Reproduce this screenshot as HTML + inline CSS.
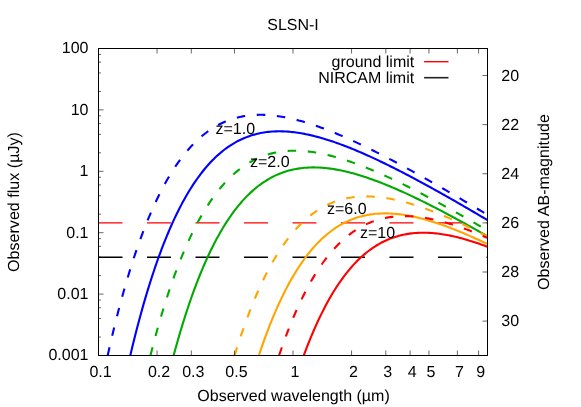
<!DOCTYPE html>
<html><head><meta charset="utf-8"><style>
html,body{margin:0;padding:0;background:#fff;}
body{width:581px;height:407px;position:relative;overflow:hidden;font-family:"Liberation Sans",sans-serif;}
.t{position:absolute;font-size:16px;line-height:16px;height:16px;white-space:nowrap;color:#000;text-rendering:geometricPrecision;}
#tx{position:absolute;left:0;top:0;width:581px;height:407px;will-change:transform;}
.rot{width:300px;height:20px;line-height:20px;text-align:center;transform:rotate(-90deg);transform-origin:50% 50%;}
</style></head><body>
<svg width="581" height="407" viewBox="0 0 581 407" style="position:absolute;left:0;top:0">
<path d="M98.5 222.88 H487.5" stroke="#ff0000" stroke-width="1.2" stroke-dasharray="24 24.5" fill="none"/>
<path d="M98.5 257.27 H487.5" stroke="#000" stroke-width="1.3" stroke-dasharray="24 24.5" fill="none"/>
<path d="M130.30 355.50 L130.92 352.87 L132.54 346.12 L134.16 339.54 L135.78 333.10 L137.40 326.82 L139.02 320.69 L140.64 314.70 L142.26 308.86 L143.88 303.15 L145.50 297.59 L147.12 292.16 L148.75 286.86 L150.37 281.69 L151.99 276.65 L153.61 271.73 L155.23 266.94 L156.85 262.26 L158.47 257.71 L160.09 253.27 L161.71 248.94 L163.33 244.72 L164.95 240.62 L166.57 236.62 L168.20 232.73 L169.82 228.93 L171.44 225.25 L173.06 221.66 L174.68 218.16 L176.30 214.77 L177.92 211.46 L179.54 208.25 L181.16 205.13 L182.78 202.10 L184.40 199.15 L186.02 196.29 L187.65 193.51 L189.27 190.81 L190.89 188.20 L192.51 185.66 L194.13 183.20 L195.75 180.82 L197.37 178.51 L198.99 176.27 L200.61 174.10 L202.23 172.01 L203.85 169.98 L205.48 168.02 L207.10 166.12 L208.72 164.30 L210.34 162.53 L211.96 160.82 L213.58 159.18 L215.20 157.60 L216.82 156.07 L218.44 154.60 L220.06 153.19 L221.68 151.83 L223.30 150.53 L224.93 149.28 L226.55 148.08 L228.17 146.93 L229.79 145.83 L231.41 144.78 L233.03 143.78 L234.65 142.82 L236.27 141.91 L237.89 141.04 L239.51 140.22 L241.13 139.44 L242.75 138.70 L244.38 138.00 L246.00 137.35 L247.62 136.73 L249.24 136.15 L250.86 135.60 L252.48 135.09 L254.10 134.62 L255.72 134.19 L257.34 133.78 L258.96 133.41 L260.58 133.08 L262.20 132.77 L263.82 132.50 L265.45 132.25 L267.07 132.04 L268.69 131.85 L270.31 131.70 L271.93 131.57 L273.55 131.47 L275.17 131.39 L276.79 131.34 L278.41 131.31 L280.03 131.31 L281.65 131.34 L283.27 131.38 L284.90 131.45 L286.52 131.55 L288.14 131.66 L289.76 131.79 L291.38 131.95 L293.00 132.12 L294.62 132.32 L296.24 132.53 L297.86 132.77 L299.48 133.02 L301.10 133.29 L302.73 133.57 L304.35 133.88 L305.97 134.20 L307.59 134.53 L309.21 134.89 L310.83 135.25 L312.45 135.64 L314.07 136.03 L315.69 136.44 L317.31 136.87 L318.93 137.31 L320.55 137.76 L322.17 138.23 L323.80 138.70 L325.42 139.19 L327.04 139.70 L328.66 140.21 L330.28 140.74 L331.90 141.27 L333.52 141.82 L335.14 142.38 L336.76 142.95 L338.38 143.53 L340.00 144.12 L341.62 144.71 L343.25 145.32 L344.87 145.94 L346.49 146.56 L348.11 147.20 L349.73 147.84 L351.35 148.49 L352.97 149.15 L354.59 149.82 L356.21 150.50 L357.83 151.18 L359.45 151.87 L361.08 152.57 L362.70 153.27 L364.32 153.98 L365.94 154.70 L367.56 155.43 L369.18 156.16 L370.80 156.90 L372.42 157.64 L374.04 158.39 L375.66 159.15 L377.28 159.91 L378.90 160.67 L380.52 161.45 L382.15 162.22 L383.77 163.01 L385.39 163.80 L387.01 164.59 L388.63 165.39 L390.25 166.19 L391.87 167.00 L393.49 167.81 L395.11 168.63 L396.73 169.45 L398.35 170.27 L399.98 171.10 L401.60 171.93 L403.22 172.77 L404.84 173.61 L406.46 174.46 L408.08 175.30 L409.70 176.16 L411.32 177.01 L412.94 177.87 L414.56 178.73 L416.18 179.60 L417.80 180.47 L419.42 181.34 L421.05 182.22 L422.67 183.09 L424.29 183.98 L425.91 184.86 L427.53 185.75 L429.15 186.64 L430.77 187.53 L432.39 188.42 L434.01 189.32 L435.63 190.22 L437.25 191.13 L438.88 192.03 L440.50 192.94 L442.12 193.85 L443.74 194.76 L445.36 195.68 L446.98 196.59 L448.60 197.51 L450.22 198.43 L451.84 199.36 L453.46 200.28 L455.08 201.21 L456.70 202.14 L458.33 203.07 L459.95 204.00 L461.57 204.93 L463.19 205.87 L464.81 206.81 L466.43 207.75 L468.05 208.69 L469.67 209.63 L471.29 210.58 L472.91 211.52 L474.53 212.47 L476.15 213.42 L477.77 214.37 L479.40 215.32 L481.02 216.28 L482.64 217.23 L484.26 218.19 L485.88 219.15 L487.50 220.10" stroke="#0000ff" stroke-width="2.1" fill="none" stroke-linejoin="round"/>
<path d="M107.67 355.50 L108.23 353.00 L109.85 345.87 L111.47 338.90 L113.09 332.10 L114.71 325.45 L116.33 318.96 L117.95 312.63 L119.57 306.44 L121.19 300.40 L122.81 294.50 L124.43 288.75 L126.05 283.13 L127.68 277.65 L129.30 272.30 L130.92 267.08 L132.54 261.99 L134.16 257.03 L135.78 252.19 L137.40 247.47 L139.02 242.87 L140.64 238.39 L142.26 234.02 L143.88 229.77 L145.50 225.62 L147.12 221.58 L148.75 217.65 L150.37 213.82 L151.99 210.09 L153.61 206.47 L155.23 202.94 L156.85 199.51 L158.47 196.17 L160.09 192.92 L161.71 189.77 L163.33 186.70 L164.95 183.73 L166.57 180.83 L168.20 178.02 L169.82 175.30 L171.44 172.65 L173.06 170.09 L174.68 167.60 L176.30 165.19 L177.92 162.85 L179.54 160.58 L181.16 158.39 L182.78 156.27 L184.40 154.22 L186.02 152.23 L187.65 150.31 L189.27 148.46 L190.89 146.67 L192.51 144.94 L194.13 143.28 L195.75 141.67 L197.37 140.12 L198.99 138.63 L200.61 137.20 L202.23 135.82 L203.85 134.50 L205.48 133.23 L207.10 132.01 L208.72 130.84 L210.34 129.73 L211.96 128.66 L213.58 127.64 L215.20 126.66 L216.82 125.74 L218.44 124.85 L220.06 124.01 L221.68 123.22 L223.30 122.46 L224.93 121.75 L226.55 121.08 L228.17 120.44 L229.79 119.85 L231.41 119.29 L233.03 118.77 L234.65 118.29 L236.27 117.84 L237.89 117.42 L239.51 117.04 L241.13 116.69 L242.75 116.37 L244.38 116.09 L246.00 115.83 L247.62 115.61 L249.24 115.41 L250.86 115.25 L252.48 115.11 L254.10 114.99 L255.72 114.91 L257.34 114.85 L258.96 114.81 L260.58 114.80 L262.20 114.82 L263.82 114.86 L265.45 114.92 L267.07 115.00 L268.69 115.11 L270.31 115.23 L271.93 115.38 L273.55 115.55 L275.17 115.74 L276.79 115.94 L278.41 116.17 L280.03 116.42 L281.65 116.68 L283.27 116.96 L284.90 117.26 L286.52 117.57 L288.14 117.90 L289.76 118.25 L291.38 118.61 L293.00 118.99 L294.62 119.38 L296.24 119.78 L297.86 120.20 L299.48 120.64 L301.10 121.08 L302.73 121.55 L304.35 122.02 L305.97 122.50 L307.59 123.00 L309.21 123.51 L310.83 124.03 L312.45 124.57 L314.07 125.11 L315.69 125.66 L317.31 126.23 L318.93 126.80 L320.55 127.39 L322.17 127.98 L323.80 128.59 L325.42 129.20 L327.04 129.82 L328.66 130.46 L330.28 131.10 L331.90 131.74 L333.52 132.40 L335.14 133.07 L336.76 133.74 L338.38 134.42 L340.00 135.11 L341.62 135.80 L343.25 136.50 L344.87 137.21 L346.49 137.93 L348.11 138.65 L349.73 139.38 L351.35 140.12 L352.97 140.86 L354.59 141.60 L356.21 142.36 L357.83 143.12 L359.45 143.88 L361.08 144.65 L362.70 145.43 L364.32 146.21 L365.94 147.00 L367.56 147.79 L369.18 148.58 L370.80 149.38 L372.42 150.19 L374.04 151.00 L375.66 151.82 L377.28 152.63 L378.90 153.46 L380.52 154.29 L382.15 155.12 L383.77 155.95 L385.39 156.79 L387.01 157.64 L388.63 158.48 L390.25 159.33 L391.87 160.19 L393.49 161.05 L395.11 161.91 L396.73 162.77 L398.35 163.64 L399.98 164.51 L401.60 165.38 L403.22 166.26 L404.84 167.14 L406.46 168.02 L408.08 168.91 L409.70 169.80 L411.32 170.69 L412.94 171.59 L414.56 172.48 L416.18 173.38 L417.80 174.28 L419.42 175.19 L421.05 176.09 L422.67 177.00 L424.29 177.92 L425.91 178.83 L427.53 179.74 L429.15 180.66 L430.77 181.58 L432.39 182.51 L434.01 183.43 L435.63 184.36 L437.25 185.28 L438.88 186.21 L440.50 187.15 L442.12 188.08 L443.74 189.02 L445.36 189.95 L446.98 190.89 L448.60 191.83 L450.22 192.78 L451.84 193.72 L453.46 194.67 L455.08 195.61 L456.70 196.56 L458.33 197.51 L459.95 198.46 L461.57 199.42 L463.19 200.37 L464.81 201.33 L466.43 202.28 L468.05 203.24 L469.67 204.20 L471.29 205.16 L472.91 206.12 L474.53 207.09 L476.15 208.05 L477.77 209.02 L479.40 209.99 L481.02 210.95 L482.64 211.92 L484.26 212.89 L485.88 213.86 L487.50 214.84" stroke="#0000ff" stroke-width="2.1" fill="none" stroke-linejoin="round" stroke-dasharray="8.5 11.65"/>
<path d="M173.62 355.50 L174.68 351.58 L176.30 345.71 L177.92 339.99 L179.54 334.41 L181.16 328.96 L182.78 323.64 L184.40 318.46 L186.02 313.40 L187.65 308.47 L189.27 303.66 L190.89 298.97 L192.51 294.40 L194.13 289.94 L195.75 285.60 L197.37 281.37 L198.99 277.25 L200.61 273.24 L202.23 269.33 L203.85 265.53 L205.48 261.82 L207.10 258.22 L208.72 254.71 L210.34 251.31 L211.96 247.99 L213.58 244.77 L215.20 241.63 L216.82 238.59 L218.44 235.63 L220.06 232.76 L221.68 229.97 L223.30 227.26 L224.93 224.64 L226.55 222.09 L228.17 219.62 L229.79 217.22 L231.41 214.90 L233.03 212.66 L234.65 210.48 L236.27 208.38 L237.89 206.34 L239.51 204.37 L241.13 202.47 L242.75 200.63 L244.38 198.86 L246.00 197.14 L247.62 195.49 L249.24 193.90 L250.86 192.37 L252.48 190.89 L254.10 189.47 L255.72 188.11 L257.34 186.80 L258.96 185.54 L260.58 184.33 L262.20 183.18 L263.82 182.07 L265.45 181.02 L267.07 180.01 L268.69 179.05 L270.31 178.13 L271.93 177.26 L273.55 176.43 L275.17 175.64 L276.79 174.90 L278.41 174.19 L280.03 173.53 L281.65 172.91 L283.27 172.32 L284.90 171.77 L286.52 171.26 L288.14 170.78 L289.76 170.34 L291.38 169.93 L293.00 169.56 L294.62 169.22 L296.24 168.91 L297.86 168.63 L299.48 168.38 L301.10 168.17 L302.73 167.98 L304.35 167.82 L305.97 167.68 L307.59 167.58 L309.21 167.50 L310.83 167.44 L312.45 167.42 L314.07 167.41 L315.69 167.43 L317.31 167.48 L318.93 167.54 L320.55 167.63 L322.17 167.74 L323.80 167.87 L325.42 168.03 L327.04 168.20 L328.66 168.39 L330.28 168.60 L331.90 168.83 L333.52 169.08 L335.14 169.35 L336.76 169.63 L338.38 169.94 L340.00 170.25 L341.62 170.59 L343.25 170.94 L344.87 171.30 L346.49 171.68 L348.11 172.08 L349.73 172.49 L351.35 172.91 L352.97 173.35 L354.59 173.80 L356.21 174.26 L357.83 174.74 L359.45 175.23 L361.08 175.73 L362.70 176.24 L364.32 176.77 L365.94 177.30 L367.56 177.85 L369.18 178.41 L370.80 178.97 L372.42 179.55 L374.04 180.14 L375.66 180.73 L377.28 181.34 L378.90 181.96 L380.52 182.58 L382.15 183.21 L383.77 183.86 L385.39 184.51 L387.01 185.17 L388.63 185.83 L390.25 186.51 L391.87 187.19 L393.49 187.88 L395.11 188.58 L396.73 189.28 L398.35 189.99 L399.98 190.71 L401.60 191.43 L403.22 192.16 L404.84 192.90 L406.46 193.64 L408.08 194.39 L409.70 195.15 L411.32 195.91 L412.94 196.67 L414.56 197.45 L416.18 198.22 L417.80 199.00 L419.42 199.79 L421.05 200.58 L422.67 201.38 L424.29 202.18 L425.91 202.99 L427.53 203.80 L429.15 204.62 L430.77 205.44 L432.39 206.26 L434.01 207.09 L435.63 207.92 L437.25 208.76 L438.88 209.60 L440.50 210.44 L442.12 211.29 L443.74 212.14 L445.36 213.00 L446.98 213.86 L448.60 214.72 L450.22 215.59 L451.84 216.45 L453.46 217.33 L455.08 218.20 L456.70 219.08 L458.33 219.96 L459.95 220.84 L461.57 221.73 L463.19 222.62 L464.81 223.51 L466.43 224.41 L468.05 225.30 L469.67 226.20 L471.29 227.11 L472.91 228.01 L474.53 228.92 L476.15 229.83 L477.77 230.74 L479.40 231.66 L481.02 232.57 L482.64 233.49 L484.26 234.41 L485.88 235.33 L487.50 236.26" stroke="#00aa00" stroke-width="2.1" fill="none" stroke-linejoin="round"/>
<path d="M150.43 355.50 L151.99 349.39 L153.61 343.18 L155.23 337.12 L156.85 331.21 L158.47 325.43 L160.09 319.79 L161.71 314.30 L163.33 308.93 L164.95 303.69 L166.57 298.59 L168.20 293.61 L169.82 288.75 L171.44 284.02 L173.06 279.40 L174.68 274.90 L176.30 270.52 L177.92 266.25 L179.54 262.09 L181.16 258.03 L182.78 254.09 L184.40 250.24 L186.02 246.50 L187.65 242.86 L189.27 239.32 L190.89 235.87 L192.51 232.52 L194.13 229.27 L195.75 226.10 L197.37 223.02 L198.99 220.03 L200.61 217.13 L202.23 214.31 L203.85 211.57 L205.48 208.91 L207.10 206.33 L208.72 203.84 L210.34 201.41 L211.96 199.06 L213.58 196.79 L215.20 194.59 L216.82 192.46 L218.44 190.39 L220.06 188.40 L221.68 186.47 L223.30 184.61 L224.93 182.81 L226.55 181.08 L228.17 179.40 L229.79 177.79 L231.41 176.23 L233.03 174.73 L234.65 173.29 L236.27 171.91 L237.89 170.58 L239.51 169.30 L241.13 168.08 L242.75 166.90 L244.38 165.78 L246.00 164.70 L247.62 163.68 L249.24 162.70 L250.86 161.76 L252.48 160.87 L254.10 160.03 L255.72 159.22 L257.34 158.46 L258.96 157.75 L260.58 157.07 L262.20 156.43 L263.82 155.83 L265.45 155.27 L267.07 154.74 L268.69 154.25 L270.31 153.80 L271.93 153.38 L273.55 152.99 L275.17 152.64 L276.79 152.31 L278.41 152.02 L280.03 151.77 L281.65 151.54 L283.27 151.34 L284.90 151.17 L286.52 151.02 L288.14 150.91 L289.76 150.82 L291.38 150.75 L293.00 150.72 L294.62 150.70 L296.24 150.71 L297.86 150.75 L299.48 150.81 L301.10 150.89 L302.73 150.99 L304.35 151.11 L305.97 151.26 L307.59 151.42 L309.21 151.61 L310.83 151.81 L312.45 152.04 L314.07 152.28 L315.69 152.54 L317.31 152.82 L318.93 153.11 L320.55 153.42 L322.17 153.75 L323.80 154.10 L325.42 154.46 L327.04 154.83 L328.66 155.22 L330.28 155.62 L331.90 156.04 L333.52 156.48 L335.14 156.92 L336.76 157.38 L338.38 157.85 L340.00 158.34 L341.62 158.83 L343.25 159.34 L344.87 159.86 L346.49 160.39 L348.11 160.93 L349.73 161.48 L351.35 162.05 L352.97 162.62 L354.59 163.21 L356.21 163.80 L357.83 164.40 L359.45 165.01 L361.08 165.64 L362.70 166.27 L364.32 166.90 L365.94 167.55 L367.56 168.21 L369.18 168.87 L370.80 169.54 L372.42 170.22 L374.04 170.91 L375.66 171.60 L377.28 172.30 L378.90 173.01 L380.52 173.73 L382.15 174.45 L383.77 175.18 L385.39 175.91 L387.01 176.65 L388.63 177.40 L390.25 178.15 L391.87 178.91 L393.49 179.67 L395.11 180.44 L396.73 181.22 L398.35 182.00 L399.98 182.79 L401.60 183.58 L403.22 184.37 L404.84 185.17 L406.46 185.98 L408.08 186.79 L409.70 187.60 L411.32 188.42 L412.94 189.24 L414.56 190.07 L416.18 190.90 L417.80 191.74 L419.42 192.57 L421.05 193.42 L422.67 194.26 L424.29 195.11 L425.91 195.97 L427.53 196.82 L429.15 197.69 L430.77 198.55 L432.39 199.42 L434.01 200.29 L435.63 201.16 L437.25 202.04 L438.88 202.92 L440.50 203.80 L442.12 204.69 L443.74 205.57 L445.36 206.47 L446.98 207.36 L448.60 208.26 L450.22 209.16 L451.84 210.06 L453.46 210.96 L455.08 211.87 L456.70 212.78 L458.33 213.69 L459.95 214.60 L461.57 215.52 L463.19 216.43 L464.81 217.35 L466.43 218.28 L468.05 219.20 L469.67 220.13 L471.29 221.05 L472.91 221.98 L474.53 222.92 L476.15 223.85 L477.77 224.79 L479.40 225.72 L481.02 226.66 L482.64 227.60 L484.26 228.54 L485.88 229.49 L487.50 230.43" stroke="#00aa00" stroke-width="2.1" fill="none" stroke-linejoin="round" stroke-dasharray="8.5 11.65"/>
<path d="M258.87 355.50 L258.96 355.22 L260.58 350.40 L262.20 345.69 L263.82 341.10 L265.45 336.62 L267.07 332.27 L268.69 328.02 L270.31 323.88 L271.93 319.85 L273.55 315.93 L275.17 312.11 L276.79 308.39 L278.41 304.77 L280.03 301.25 L281.65 297.83 L283.27 294.50 L284.90 291.26 L286.52 288.11 L288.14 285.05 L289.76 282.08 L291.38 279.20 L293.00 276.39 L294.62 273.67 L296.24 271.04 L297.86 268.48 L299.48 265.99 L301.10 263.59 L302.73 261.26 L304.35 259.00 L305.97 256.81 L307.59 254.70 L309.21 252.65 L310.83 250.67 L312.45 248.76 L314.07 246.91 L315.69 245.12 L317.31 243.40 L318.93 241.74 L320.55 240.14 L322.17 238.60 L323.80 237.11 L325.42 235.68 L327.04 234.31 L328.66 232.99 L330.28 231.73 L331.90 230.51 L333.52 229.35 L335.14 228.24 L336.76 227.17 L338.38 226.15 L340.00 225.18 L341.62 224.26 L343.25 223.38 L344.87 222.55 L346.49 221.75 L348.11 221.00 L349.73 220.29 L351.35 219.62 L352.97 218.99 L354.59 218.40 L356.21 217.85 L357.83 217.33 L359.45 216.85 L361.08 216.40 L362.70 215.99 L364.32 215.61 L365.94 215.26 L367.56 214.95 L369.18 214.66 L370.80 214.41 L372.42 214.19 L374.04 214.00 L375.66 213.83 L377.28 213.69 L378.90 213.58 L380.52 213.50 L382.15 213.44 L383.77 213.41 L385.39 213.40 L387.01 213.42 L388.63 213.46 L390.25 213.52 L391.87 213.61 L393.49 213.71 L395.11 213.84 L396.73 213.99 L398.35 214.16 L399.98 214.35 L401.60 214.56 L403.22 214.79 L404.84 215.03 L406.46 215.30 L408.08 215.58 L409.70 215.88 L411.32 216.19 L412.94 216.53 L414.56 216.87 L416.18 217.24 L417.80 217.62 L419.42 218.01 L421.05 218.42 L422.67 218.84 L424.29 219.27 L425.91 219.72 L427.53 220.18 L429.15 220.66 L430.77 221.14 L432.39 221.64 L434.01 222.15 L435.63 222.68 L437.25 223.21 L438.88 223.75 L440.50 224.31 L442.12 224.87 L443.74 225.45 L445.36 226.04 L446.98 226.63 L448.60 227.24 L450.22 227.85 L451.84 228.47 L453.46 229.11 L455.08 229.75 L456.70 230.40 L458.33 231.05 L459.95 231.72 L461.57 232.39 L463.19 233.07 L464.81 233.76 L466.43 234.46 L468.05 235.16 L469.67 235.87 L471.29 236.59 L472.91 237.31 L474.53 238.04 L476.15 238.77 L477.77 239.52 L479.40 240.27 L481.02 241.02 L482.64 241.78 L484.26 242.54 L485.88 243.32 L487.50 244.09" stroke="#ffa500" stroke-width="2.1" fill="none" stroke-linejoin="round"/>
<path d="M234.62 355.50 L234.65 355.41 L236.27 350.16 L237.89 345.04 L239.51 340.04 L241.13 335.16 L242.75 330.41 L244.38 325.78 L246.00 321.26 L247.62 316.86 L249.24 312.57 L250.86 308.40 L252.48 304.33 L254.10 300.36 L255.72 296.51 L257.34 292.75 L258.96 289.10 L260.58 285.54 L262.20 282.08 L263.82 278.72 L265.45 275.44 L267.07 272.26 L268.69 269.17 L270.31 266.17 L271.93 263.25 L273.55 260.42 L275.17 257.67 L276.79 255.00 L278.41 252.41 L280.03 249.90 L281.65 247.47 L283.27 245.11 L284.90 242.83 L286.52 240.61 L288.14 238.47 L289.76 236.40 L291.38 234.39 L293.00 232.46 L294.62 230.59 L296.24 228.78 L297.86 227.03 L299.48 225.35 L301.10 223.73 L302.73 222.16 L304.35 220.66 L305.97 219.21 L307.59 217.81 L309.21 216.48 L310.83 215.19 L312.45 213.96 L314.07 212.78 L315.69 211.65 L317.31 210.56 L318.93 209.53 L320.55 208.54 L322.17 207.60 L323.80 206.71 L325.42 205.85 L327.04 205.05 L328.66 204.28 L330.28 203.55 L331.90 202.87 L333.52 202.23 L335.14 201.62 L336.76 201.05 L338.38 200.52 L340.00 200.03 L341.62 199.57 L343.25 199.14 L344.87 198.75 L346.49 198.39 L348.11 198.07 L349.73 197.77 L351.35 197.51 L352.97 197.27 L354.59 197.07 L356.21 196.89 L357.83 196.75 L359.45 196.63 L361.08 196.53 L362.70 196.47 L364.32 196.43 L365.94 196.41 L367.56 196.42 L369.18 196.45 L370.80 196.50 L372.42 196.58 L374.04 196.68 L375.66 196.80 L377.28 196.94 L378.90 197.10 L380.52 197.29 L382.15 197.49 L383.77 197.71 L385.39 197.95 L387.01 198.21 L388.63 198.48 L390.25 198.77 L391.87 199.08 L393.49 199.41 L395.11 199.75 L396.73 200.11 L398.35 200.48 L399.98 200.87 L401.60 201.27 L403.22 201.69 L404.84 202.12 L406.46 202.56 L408.08 203.02 L409.70 203.49 L411.32 203.97 L412.94 204.46 L414.56 204.97 L416.18 205.49 L417.80 206.02 L419.42 206.56 L421.05 207.11 L422.67 207.67 L424.29 208.24 L425.91 208.83 L427.53 209.42 L429.15 210.02 L430.77 210.63 L432.39 211.25 L434.01 211.88 L435.63 212.52 L437.25 213.16 L438.88 213.82 L440.50 214.48 L442.12 215.15 L443.74 215.83 L445.36 216.51 L446.98 217.21 L448.60 217.91 L450.22 218.61 L451.84 219.33 L453.46 220.05 L455.08 220.78 L456.70 221.51 L458.33 222.25 L459.95 223.00 L461.57 223.75 L463.19 224.50 L464.81 225.27 L466.43 226.04 L468.05 226.81 L469.67 227.59 L471.29 228.38 L472.91 229.17 L474.53 229.96 L476.15 230.76 L477.77 231.56 L479.40 232.37 L481.02 233.19 L482.64 234.00 L484.26 234.83 L485.88 235.65 L487.50 236.48" stroke="#ffa500" stroke-width="2.1" fill="none" stroke-linejoin="round" stroke-dasharray="8.5 11.65"/>
<path d="M303.79 355.50 L304.35 353.99 L305.97 349.68 L307.59 345.48 L309.21 341.39 L310.83 337.41 L312.45 333.53 L314.07 329.75 L315.69 326.08 L317.31 322.51 L318.93 319.03 L320.55 315.64 L322.17 312.35 L323.80 309.16 L325.42 306.05 L327.04 303.03 L328.66 300.10 L330.28 297.25 L331.90 294.48 L333.52 291.80 L335.14 289.19 L336.76 286.67 L338.38 284.22 L340.00 281.85 L341.62 279.55 L343.25 277.32 L344.87 275.17 L346.49 273.08 L348.11 271.06 L349.73 269.11 L351.35 267.23 L352.97 265.41 L354.59 263.65 L356.21 261.96 L357.83 260.32 L359.45 258.75 L361.08 257.23 L362.70 255.77 L364.32 254.37 L365.94 253.02 L367.56 251.72 L369.18 250.48 L370.80 249.29 L372.42 248.15 L374.04 247.06 L375.66 246.01 L377.28 245.02 L378.90 244.07 L380.52 243.16 L382.15 242.30 L383.77 241.49 L385.39 240.71 L387.01 239.98 L388.63 239.29 L390.25 238.64 L391.87 238.02 L393.49 237.45 L395.11 236.91 L396.73 236.41 L398.35 235.94 L399.98 235.51 L401.60 235.11 L403.22 234.75 L404.84 234.42 L406.46 234.12 L408.08 233.85 L409.70 233.61 L411.32 233.40 L412.94 233.22 L414.56 233.06 L416.18 232.94 L417.80 232.84 L419.42 232.77 L421.05 232.72 L422.67 232.70 L424.29 232.70 L425.91 232.73 L427.53 232.78 L429.15 232.85 L430.77 232.95 L432.39 233.07 L434.01 233.20 L435.63 233.36 L437.25 233.54 L438.88 233.74 L440.50 233.96 L442.12 234.19 L443.74 234.45 L445.36 234.72 L446.98 235.01 L448.60 235.31 L450.22 235.64 L451.84 235.97 L453.46 236.33 L455.08 236.70 L456.70 237.08 L458.33 237.48 L459.95 237.90 L461.57 238.32 L463.19 238.77 L464.81 239.22 L466.43 239.69 L468.05 240.17 L469.67 240.66 L471.29 241.16 L472.91 241.68 L474.53 242.21 L476.15 242.74 L477.77 243.29 L479.40 243.85 L481.02 244.42 L482.64 245.00 L484.26 245.59 L485.88 246.19 L487.50 246.80" stroke="#ff0000" stroke-width="2.1" fill="none" stroke-linejoin="round"/>
<path d="M279.09 355.50 L280.03 352.71 L281.65 348.01 L283.27 343.43 L284.90 338.96 L286.52 334.61 L288.14 330.38 L289.76 326.25 L291.38 322.23 L293.00 318.31 L294.62 314.50 L296.24 310.79 L297.86 307.18 L299.48 303.67 L301.10 300.25 L302.73 296.93 L304.35 293.70 L305.97 290.56 L307.59 287.50 L309.21 284.54 L310.83 281.66 L312.45 278.87 L314.07 276.15 L315.69 273.52 L317.31 270.97 L318.93 268.49 L320.55 266.09 L322.17 263.77 L323.80 261.51 L325.42 259.33 L327.04 257.22 L328.66 255.18 L330.28 253.21 L331.90 251.30 L333.52 249.45 L335.14 247.67 L336.76 245.96 L338.38 244.30 L340.00 242.71 L341.62 241.17 L343.25 239.69 L344.87 238.26 L346.49 236.90 L348.11 235.58 L349.73 234.32 L351.35 233.11 L352.97 231.95 L354.59 230.84 L356.21 229.78 L357.83 228.77 L359.45 227.80 L361.08 226.88 L362.70 226.00 L364.32 225.17 L365.94 224.38 L367.56 223.64 L369.18 222.93 L370.80 222.26 L372.42 221.64 L374.04 221.05 L375.66 220.50 L377.28 219.98 L378.90 219.50 L380.52 219.06 L382.15 218.65 L383.77 218.27 L385.39 217.93 L387.01 217.62 L388.63 217.34 L390.25 217.09 L391.87 216.87 L393.49 216.67 L395.11 216.51 L396.73 216.38 L398.35 216.27 L399.98 216.19 L401.60 216.13 L403.22 216.10 L404.84 216.10 L406.46 216.11 L408.08 216.16 L409.70 216.22 L411.32 216.31 L412.94 216.42 L414.56 216.55 L416.18 216.70 L417.80 216.87 L419.42 217.06 L421.05 217.27 L422.67 217.50 L424.29 217.75 L425.91 218.01 L427.53 218.30 L429.15 218.60 L430.77 218.91 L432.39 219.25 L434.01 219.59 L435.63 219.96 L437.25 220.34 L438.88 220.73 L440.50 221.14 L442.12 221.56 L443.74 222.00 L445.36 222.45 L446.98 222.91 L448.60 223.39 L450.22 223.87 L451.84 224.37 L453.46 224.89 L455.08 225.41 L456.70 225.94 L458.33 226.49 L459.95 227.04 L461.57 227.61 L463.19 228.19 L464.81 228.77 L466.43 229.37 L468.05 229.98 L469.67 230.59 L471.29 231.22 L472.91 231.85 L474.53 232.49 L476.15 233.14 L477.77 233.80 L479.40 234.46 L481.02 235.14 L482.64 235.82 L484.26 236.51 L485.88 237.20 L487.50 237.91" stroke="#ff0000" stroke-width="2.1" fill="none" stroke-linejoin="round" stroke-dasharray="8.5 11.65"/>
<path d="M157.05 355.5 v-5 M157.05 48.5 v5 M191.30 355.5 v-5 M191.30 48.5 v5 M234.45 355.5 v-5 M234.45 48.5 v5 M293.00 355.5 v-5 M293.00 48.5 v5 M351.55 355.5 v-5 M351.55 48.5 v5 M385.80 355.5 v-5 M385.80 48.5 v5 M410.10 355.5 v-5 M410.10 48.5 v5 M428.95 355.5 v-5 M428.95 48.5 v5 M457.37 355.5 v-5 M457.37 48.5 v5 M478.60 355.5 v-5 M478.60 48.5 v5 M98.5 337.02 h2.5 M98.5 318.53 h2.5 M98.5 307.72 h2.5 M98.5 300.05 h2.5 M98.5 294.10 h5 M98.5 275.62 h2.5 M98.5 257.13 h2.5 M98.5 246.32 h2.5 M98.5 238.65 h2.5 M98.5 232.70 h5 M98.5 214.22 h2.5 M98.5 195.73 h2.5 M98.5 184.92 h2.5 M98.5 177.25 h2.5 M98.5 171.30 h5 M98.5 152.82 h2.5 M98.5 134.33 h2.5 M98.5 123.52 h2.5 M98.5 115.85 h2.5 M98.5 109.90 h5 M98.5 91.42 h2.5 M98.5 72.93 h2.5 M98.5 62.12 h2.5 M98.5 54.45 h2.5 M487.5 75.52 h-5 M487.5 124.64 h-5 M487.5 173.76 h-5 M487.5 222.88 h-5 M487.5 272.00 h-5 M487.5 321.12 h-5" stroke="#000" stroke-width="0.6" fill="none"/>
<rect x="98.5" y="48.5" width="389.0" height="307.0" fill="none" stroke="#000" stroke-width="1"/>
<path d="M424.1 61.7 H448.5" stroke="#ff0000" stroke-width="1.4"/>
<path d="M424.1 77.7 H448.5" stroke="#222" stroke-width="1.6"/>
</svg>
<div id="tx">
<div class="t" style="left:143px;width:300px;text-align:center;top:17.66px;">SLSN-I</div>
<div class="t" style="right:492.5px;top:41.46px;">100</div>
<div class="t" style="right:492.5px;top:102.86px;">10</div>
<div class="t" style="right:492.5px;top:164.26px;">1</div>
<div class="t" style="right:492.5px;top:225.66px;">0.1</div>
<div class="t" style="right:492.5px;top:287.06px;">0.01</div>
<div class="t" style="right:492.5px;top:348.46px;">0.001</div>
<div class="t" style="left:-49.5px;width:300px;text-align:center;top:365.46px;">0.1</div>
<div class="t" style="left:9.05033415664434px;width:300px;text-align:center;top:365.46px;">0.2</div>
<div class="t" style="left:43.30008404297433px;width:300px;text-align:center;top:365.46px;">0.3</div>
<div class="t" style="left:86.44966584335566px;width:300px;text-align:center;top:365.46px;">0.5</div>
<div class="t" style="left:145.0px;width:300px;text-align:center;top:365.46px;">1</div>
<div class="t" style="left:203.55033415664434px;width:300px;text-align:center;top:365.46px;">2</div>
<div class="t" style="left:237.80008404297433px;width:300px;text-align:center;top:365.46px;">3</div>
<div class="t" style="left:262.1006683132887px;width:300px;text-align:center;top:365.46px;">4</div>
<div class="t" style="left:280.94966584335566px;width:300px;text-align:center;top:365.46px;">5</div>
<div class="t" style="left:309.37156878277295px;width:300px;text-align:center;top:365.46px;">7</div>
<div class="t" style="left:330.60016808594867px;width:300px;text-align:center;top:365.46px;">9</div>
<div class="t" style="left:501.3px;top:68.58px;">20</div>
<div class="t" style="left:501.3px;top:117.70px;">22</div>
<div class="t" style="left:501.3px;top:166.82px;">24</div>
<div class="t" style="left:501.3px;top:215.94px;">26</div>
<div class="t" style="left:501.3px;top:265.06px;">28</div>
<div class="t" style="left:501.3px;top:314.18px;">30</div>
<div class="t" style="left:143.5px;width:300px;text-align:center;top:389.16px;">Observed wavelength (µm)</div>
<div class="t" style="right:166.8px;top:54.86px;">ground limit</div>
<div class="t" style="right:166.8px;top:71.46px;">NIRCAM limit</div>
<div class="t" style="left:215.5px;top:122.26px;">z=1.0</div>
<div class="t" style="left:250.0px;top:154.66px;">z=2.0</div>
<div class="t" style="left:327px;top:201.76px;">z=6.0</div>
<div class="t" style="left:360px;top:226.26px;">z=10</div>
<div class="t rot" style="left:-135.5px;top:192.4px;letter-spacing:0.04px;">Observed flux (µJy)</div>
<div class="t rot" style="left:395.20000000000005px;top:191.9px;letter-spacing:0.09px;">Observed AB-magnitude</div>
</div>
</body></html>
